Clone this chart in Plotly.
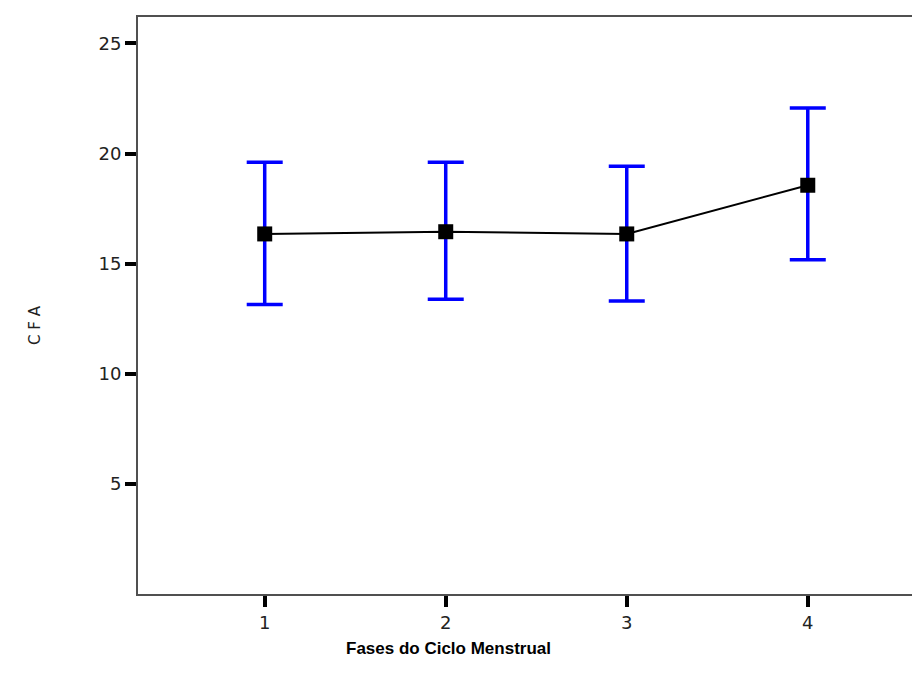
import plotly.graph_objects as go

phases = [1, 2, 3, 4]
means = [16.35, 16.45, 16.35, 18.56]
upper = [19.6, 19.6, 19.42, 22.07]
lower = [13.15, 13.38, 13.3, 15.18]
y_ticks = [5, 10, 15, 20, 25]

err_plus = [u - m for u, m in zip(upper, means)]
err_minus = [m - l for m, l in zip(means, lower)]

fig = go.Figure()
fig.add_trace(go.Scatter(
    x=phases, y=means, mode="lines+markers",
    line=dict(color="black", width=2),
    marker=dict(symbol="square", size=15, color="black"),
    error_y=dict(type="data", symmetric=False, array=err_plus, arrayminus=err_minus,
                 color="#0000ff", thickness=3.5, width=18),
    showlegend=False,
))

fig.update_layout(
    width=912, height=668,
    margin=dict(l=130, r=0, t=9, b=82),
    paper_bgcolor="white", plot_bgcolor="white",
    font=dict(family="DejaVu Sans", color="#222222"),
    xaxis=dict(range=[0.3, 4.62], tickvals=phases, ticktext=[str(p) for p in phases],
               showgrid=False, zeroline=False, showline=True, linecolor="#505050",
               linewidth=2, mirror=True, ticks="outside", ticklen=11, tickwidth=4,
               tickcolor="black", tickfont=dict(size=18, family="DejaVu Sans")),
    yaxis=dict(range=[0, 26.2], tickvals=y_ticks, showgrid=False, zeroline=False,
               showline=True, linecolor="#505050", linewidth=2, ticks="outside",
               ticklen=11, tickwidth=4, tickcolor="black",
               tickfont=dict(size=18, family="DejaVu Sans")),
    annotations=[
        dict(text="<b>Fases do Ciclo Menstrual</b>", xref="paper", yref="paper",
             x=(448 - 138) / 782, y=-(648 - 594) / 577, xanchor="center", yanchor="middle",
             showarrow=False, font=dict(size=17, family="Liberation Sans", color="black")),
        dict(text="C F A", xref="paper", yref="paper", x=-(138 - 35) / 782,
             y=(594 - 325) / 577, xanchor="center", yanchor="middle", textangle=-90,
             showarrow=False, font=dict(size=15, family="DejaVu Sans", color="#222222")),
    ],
)

fig.write_html("out.html")
